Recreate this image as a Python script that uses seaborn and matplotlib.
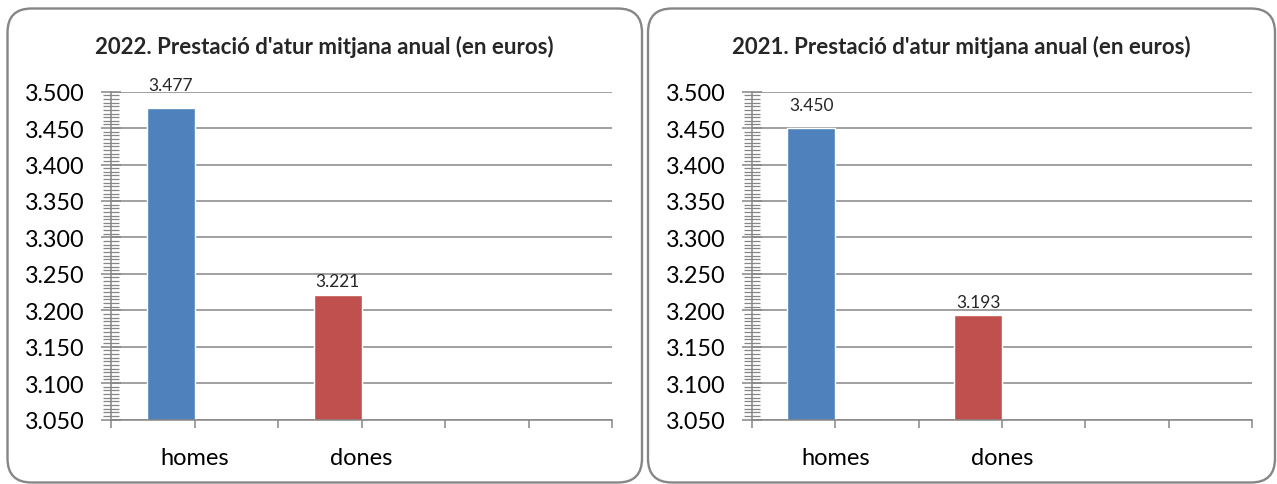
import matplotlib.pyplot as plt
import seaborn as sns
import pandas as pd
from matplotlib.patches import FancyBboxPatch
from matplotlib.ticker import MultipleLocator, FuncFormatter

# chart data
categories = ["homes", "dones"]
years = ["2022", "2021"]
values_2022 = [3477, 3221]
values_2021 = [3450, 3193]
title_text = "Prestació d'atur mitjana anual (en euros)"
bar_colors = ["#4F81BD", "#C0504D"]
grid_color = "#868686"

sns.set_theme(style="white")
plt.rcParams["font.family"] = ["Lato", "DejaVu Sans"]

W, H = 1277, 485
fig = plt.figure(figsize=(W / 100, H / 100), dpi=100)

# background layer in pixel units for the rounded chart frames
bg = fig.add_axes([0, 0, 1, 1], zorder=-1)
bg.set_xlim(0, W)
bg.set_ylim(H, 0)
bg.axis("off")

# (frame left, frame right, axes left px, axes right px)
panels = [
    (7.5, 642, 111, 612),
    (648, 1275, 752, 1252),
]
axes_top, axes_bottom = 92.7, 420.5
bar_width = 0.287
label_pad = [11, 4]  # homes label sits higher above its bar in the original

for pos, (values, year) in enumerate(zip([values_2022, values_2021], years)):
    fx0, fx1, ax0, ax1 = panels[pos]
    frame = FancyBboxPatch(
        (fx0, 9.5), fx1 - fx0, 474,
        boxstyle="round,pad=0,rounding_size=24",
        facecolor="white", edgecolor="#868686", linewidth=1.7,
    )
    bg.add_patch(frame)

    ax = fig.add_axes([
        ax0 / W, (H - axes_bottom) / H,
        (ax1 - ax0) / W, (axes_bottom - axes_top) / H,
    ])
    df = pd.DataFrame({"sexe": categories, "valor": values})
    sns.barplot(
        data=df, x="sexe", y="valor", hue="sexe", palette=bar_colors,
        width=bar_width, saturation=1, legend=False, ax=ax,
    )
    # Excel-style: bar sits left of the category tick
    for patch in ax.patches:
        patch.set_x(patch.get_x() - bar_width / 2)
    for i, container in enumerate(ax.containers):
        ax.bar_label(
            container,
            labels=[f"{v:,.0f}".replace(",", ".") for v in container.datavalues],
            padding=label_pad[i], fontsize=12.5,
        )

    ax.set_ylim(3050, 3500)
    ax.set_xlim(-0.5, 2.5)
    ax.yaxis.set_major_locator(MultipleLocator(50))
    ax.yaxis.set_minor_locator(MultipleLocator(5))
    ax.yaxis.set_major_formatter(
        FuncFormatter(lambda v, p: f"{v:,.0f}".replace(",", "."))
    )
    ax.set_xticks([-0.5, 0, 0.5, 1, 1.5, 2, 2.5])
    ax.set_xticklabels(["", "homes", "", "dones", "", "", ""])
    ax.set_xlabel("")
    ax.set_ylabel("")

    ax.yaxis.grid(True, color=grid_color, linewidth=1.1)
    ax.set_axisbelow(True)
    for side in ["top", "right"]:
        ax.spines[side].set_visible(False)
    for side in ["left", "bottom"]:
        ax.spines[side].set_color(grid_color)
        ax.spines[side].set_linewidth(1.1)

    ax.tick_params(axis="y", which="major", left=True, direction="inout",
                   length=14, width=1.1, color=grid_color, labelsize=16.8,
                   labelcolor="black", pad=12)
    ax.tick_params(axis="y", which="minor", left=True, direction="inout",
                   length=11, width=0.9, color=grid_color)
    ax.tick_params(axis="x", which="major", bottom=True, direction="out",
                   length=6, width=1.1, color=grid_color, labelsize=17,
                   labelcolor="black", pad=14)

    fig.text(
        (fx0 + fx1) / 2 / W, 1 - 47 / H, f"{year}. {title_text}",
        ha="center", va="center", fontsize=16, fontweight="bold",
    )

fig.savefig("out.png", dpi=100)
